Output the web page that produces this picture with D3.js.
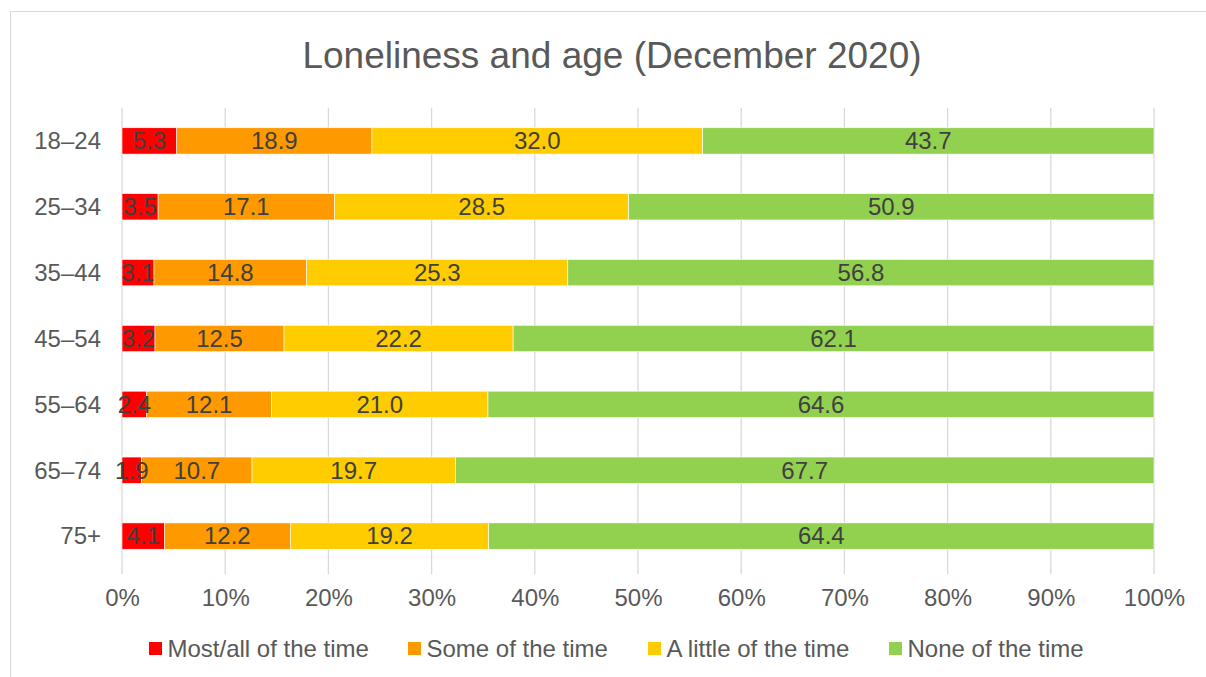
<!DOCTYPE html>
<html><head><meta charset="utf-8">
<script src="https://cdn.jsdelivr.net/npm/d3@7"></script>
<style>body{margin:0;background:#fff;font-family:"Liberation Sans",Arial,sans-serif;}</style>
</head><body>
<svg id="c" width="1206" height="677"></svg>
<script>
const categories = ["18–24","25–34","35–44","45–54","55–64","65–74","75+"];
const seriesNames = ["Most/all of the time","Some of the time","A little of the time","None of the time"];
const mostAll = [5.3,3.5,3.1,3.2,2.4,1.9,4.1];
const some = [18.9,17.1,14.8,12.5,12.1,10.7,12.2];
const aLittle = [32.0,28.5,25.3,22.2,21.0,19.7,19.2];
const none = [43.7,50.9,56.8,62.1,64.6,67.7,64.4];
const tickValues = [0,0.1,0.2,0.3,0.4,0.5,0.6,0.7,0.8,0.9,1];
const colors = ["#FF0000","#FF9900","#FFCC00","#92D050"];

const svg = d3.select("#c");
const txt = "#595959";
const FF = "Liberation Sans, Arial, sans-serif";
svg.append("rect").attr("x",10.5).attr("y",11.5).attr("width",1300).attr("height",1000)
  .attr("fill","#fff").attr("stroke","#d9d9d9").attr("stroke-width",1);

svg.append("text").attr("x",612).attr("y",68).attr("text-anchor","middle")
  .attr("font-family",FF).attr("font-size",37).attr("fill",txt).text("Loneliness and age (December 2020)");

const x = d3.scaleLinear().domain([0,1]).range([122,1154]);
const y = d3.scaleBand().domain(categories).range([108,569]).paddingInner(0.6).paddingOuter(0.3);

const g = svg.append("g");
g.selectAll("line.grid").data(tickValues).enter().append("line")
  .attr("x1",d=>x(d)).attr("x2",d=>x(d)).attr("y1",108).attr("y2",574)
  .attr("stroke","#d9d9d9").attr("stroke-width",1.3);

const allSeries = [mostAll,some,aLittle,none];
const rows = categories.map((c,i)=>{
  const vals = allSeries.map(s=>s[i]);
  const tot = d3.sum(vals);
  let acc = 0;
  return vals.map((v,j)=>{ const s0=acc/tot; acc+=v; return {c, j, v, x0:s0, x1:acc/tot}; });
});
const segs = rows.flat();
g.selectAll("rect.seg").data(segs).enter().append("rect")
  .attr("x",d=>x(d.x0)).attr("width",d=>x(d.x1)-x(d.x0))
  .attr("y",d=>y(d.c)).attr("height",y.bandwidth())
  .attr("fill",d=>colors[d.j]).attr("stroke","#fff").attr("stroke-width",0.6);
g.selectAll("text.lbl").data(segs).enter().append("text")
  .attr("x",d=>(x(d.x0)+x(d.x1))/2).attr("y",d=>y(d.c)+y.bandwidth()/2)
  .attr("dy","0.35em").attr("text-anchor","middle").attr("font-family",FF).attr("font-size",24).attr("fill","#404040")
  .text(d=>d.v.toFixed(1));

svg.selectAll("text.cat").data(categories).enter().append("text")
  .attr("x",101).attr("y",d=>y(d)+y.bandwidth()/2).attr("dy","0.35em")
  .attr("text-anchor","end").attr("font-family",FF).attr("font-size",24).attr("fill",txt).text(d=>d);

const xAxis = d3.axisBottom(x).tickValues(tickValues).tickFormat(d3.format(".0%")).tickSize(0).tickPadding(0);
const ax = svg.append("g").attr("transform","translate(0,598)").call(xAxis);
ax.select(".domain").remove();
ax.selectAll("text").attr("y",0).attr("dy","0.35em").attr("font-size",24).attr("fill",txt).attr("font-family",FF);

const legX = [149,408,648,889];
const leg = svg.selectAll("g.leg").data(seriesNames).enter().append("g")
  .attr("transform",(d,i)=>`translate(${legX[i]},648.5)`);
leg.append("rect").attr("x",0).attr("y",-6.5).attr("width",13).attr("height",13).attr("fill",(d,i)=>colors[i]);
leg.append("text").attr("x",18.5).attr("dy","0.35em").attr("font-family",FF).attr("font-size",24).attr("fill",txt).text(d=>d);
</script>
</body></html>
